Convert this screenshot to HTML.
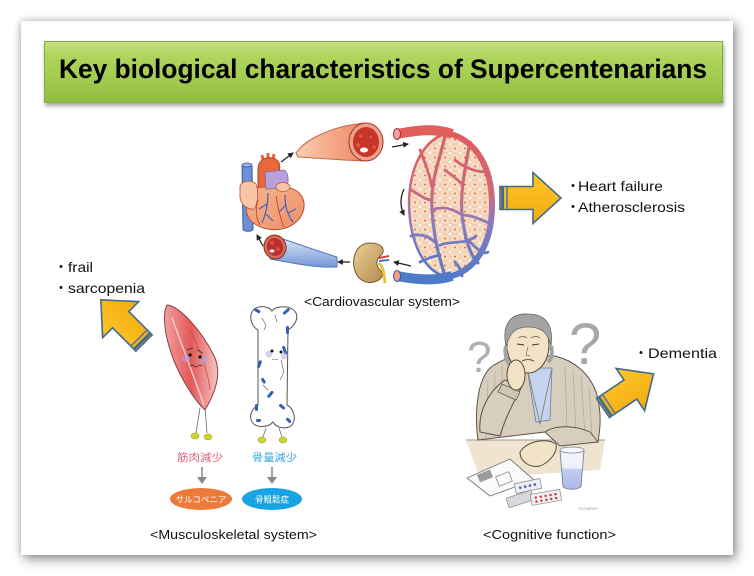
<!DOCTYPE html>
<html><head><meta charset="utf-8">
<style>
html,body{margin:0;padding:0;background:#fff;}
body{width:754px;height:576px;position:relative;overflow:hidden;font-family:"Liberation Sans","Noto Sans CJK JP",sans-serif;}
.slide{position:absolute;left:21px;top:21px;width:712px;height:534px;background:#fff;box-shadow:3px 4px 11px rgba(0,0,0,0.45),-1px -1px 6px rgba(0,0,0,0.15);}
.bar{position:absolute;left:44px;top:41px;width:677px;height:60px;background:linear-gradient(#c4e07f 0%,#afd45c 25%,#9ec94c 70%,#8fbb3f 100%);border:1px solid #86ad3c;box-shadow:1px 3px 4px rgba(0,0,0,0.35);}
svg{position:absolute;left:0;top:0;}
</style></head><body>
<div class="slide"></div>
<div class="bar"></div>
<svg width="754" height="576" viewBox="0 0 754 576" xmlns="http://www.w3.org/2000/svg">
<defs>
  <linearGradient id="gold" x1="0" y1="0" x2="0" y2="1">
    <stop offset="0" stop-color="#fdc62a"/><stop offset="1" stop-color="#f3aa0e"/>
  </linearGradient>
  <g id="ba">
    <polygon points="0,-11.5 33,-11.5 33,-25.5 61,0 33,25.5 33,11.5 0,11.5" fill="url(#gold)" stroke="#41698f" stroke-width="1.6" stroke-linejoin="miter"/>
    <rect x="1.2" y="-10.8" width="2.8" height="21.6" fill="#41698f"/>
    <rect x="6.2" y="-10.8" width="1.6" height="21.6" fill="#5a7a98"/>
  </g>
  <marker id="ah" viewBox="0 0 6 6" refX="5" refY="3" markerWidth="4.5" markerHeight="4.5" orient="auto">
    <path d="M0,0 L6,3 L0,6 z" fill="#222"/>
  </marker>
  <linearGradient id="rb" gradientUnits="userSpaceOnUse" x1="0" y1="128" x2="0" y2="284">
    <stop offset="0" stop-color="#e35a5a"/><stop offset="0.42" stop-color="#d0687a"/><stop offset="0.6" stop-color="#8a7cc0"/><stop offset="1" stop-color="#4c78c8"/>
  </linearGradient>
  <pattern id="cells" width="10" height="9" patternUnits="userSpaceOnUse">
    <rect x="0" y="0" width="10" height="9" fill="#fff4ea"/>
    <rect x="0.6" y="0.6" width="8.8" height="7.8" rx="2" fill="#f9dcc0" stroke="#dcae88" stroke-width="0.5"/>
    <circle cx="5" cy="4.5" r="0.9" fill="#e04a3a"/>
  </pattern>
  <linearGradient id="art" x1="0" y1="0" x2="1" y2="0">
    <stop offset="0" stop-color="#f9cdb0"/><stop offset="1" stop-color="#ee8a66"/>
  </linearGradient>
  <linearGradient id="vein" x1="0" y1="0" x2="0" y2="1">
    <stop offset="0" stop-color="#e2ecf8"/><stop offset="1" stop-color="#7397d6"/>
  </linearGradient>
  <linearGradient id="kid" x1="0" y1="0" x2="1" y2="1">
    <stop offset="0" stop-color="#ecd098"/><stop offset="1" stop-color="#b48a4c"/>
  </linearGradient>
  <linearGradient id="musc" x1="0" y1="0" x2="1" y2="0">
    <stop offset="0" stop-color="#f3a0a0"/><stop offset="0.5" stop-color="#e25858"/><stop offset="1" stop-color="#f6c4c4"/>
  </linearGradient>
  <linearGradient id="glass" x1="0" y1="0" x2="0" y2="1">
    <stop offset="0" stop-color="#f2f5fb"/><stop offset="0.45" stop-color="#eef2fa"/><stop offset="0.5" stop-color="#c4cdf0"/><stop offset="1" stop-color="#a8b6ea"/>
  </linearGradient>
  <linearGradient id="hb" x1="0" y1="0" x2="1" y2="1">
    <stop offset="0" stop-color="#f7b48c"/><stop offset="1" stop-color="#ee9068"/>
  </linearGradient>
</defs>

<!-- Title -->
<text x="59" y="78" font-family="Liberation Sans Narrow, Liberation Sans, sans-serif" font-weight="bold" font-size="27" textLength="648" lengthAdjust="spacingAndGlyphs" fill="#000">Key biological characteristics of Supercentenarians</text>

<!-- ===== Cardiovascular ===== -->
<!-- top artery -->
<path d="M296,153 C305,140 325,131 345,126 L363,123 L363,161 C340,160 315,158 298,157 Z" fill="url(#art)" stroke="#c86a4e" stroke-width="1"/>
<ellipse cx="366" cy="142" rx="17" ry="19" fill="#eda08a" stroke="#9a3a2a" stroke-width="1"/>
<ellipse cx="366" cy="142" rx="13" ry="15" fill="#c8362a"/>
<circle cx="361" cy="136" r="3" fill="#e04a3a" stroke="#8a1a10" stroke-width="0.5"/>
<circle cx="371" cy="137" r="2.5" fill="#e04a3a" stroke="#8a1a10" stroke-width="0.5"/>
<circle cx="374" cy="147" r="3" fill="#e04a3a" stroke="#8a1a10" stroke-width="0.5"/>
<ellipse cx="364" cy="150" rx="4" ry="2.5" fill="#fff"/>
<circle cx="358" cy="145" r="2" fill="#e85a48"/>

<!-- capillary bed -->
<path d="M447,133 C478,140 492,170 492,205 C492,245 475,272 447,277 C425,272 410,245 409,205 C409,168 423,140 447,133 Z" fill="url(#cells)"/>
<g fill="none" stroke="#5a5a8a" stroke-width="3.6" stroke-linecap="round" opacity="0.35">
  <path d="M445,136 C440,160 430,180 432,210 C434,240 440,260 445,276"/>
  <path d="M470,142 C465,170 460,190 462,215 C465,240 470,255 478,263"/>
</g>
<g fill="none" stroke="url(#rb)" stroke-width="2.8" stroke-linecap="round">
  <path d="M445,136 C440,160 430,180 432,210 C434,240 440,260 445,276"/>
  <path d="M470,142 C465,170 460,190 462,215 C465,240 470,255 478,263"/>
  <path d="M432,210 C445,205 455,210 462,215"/>
  <path d="M420,150 C425,162 430,175 432,188"/>
  <path d="M440,245 C455,240 465,245 476,236"/>
  <path d="M411,190 C420,195 425,200 432,200"/>
  <path d="M455,160 C465,168 475,172 488,172"/>
  <path d="M411,236 C420,233 428,236 435,242"/>
  <path d="M462,215 C472,215 482,220 491,224"/>
  <path d="M455,262 C460,268 462,272 462,276"/>
  <path d="M445,170 C452,175 458,180 463,185"/>
  <path d="M420,262 C428,258 435,256 440,255"/>
  <path d="M470,242 C478,250 484,255 488,252"/>
</g>
<path d="M447,133 C478,140 492,170 492,205 C492,245 475,272 447,277" fill="none" stroke="url(#rb)" stroke-width="6"/>
<path d="M447,133 C423,140 409,168 409,205 C410,245 425,272 447,277" fill="none" stroke="url(#rb)" stroke-width="2.5"/>
<path d="M397,134 C418,130 436,128 452,134" fill="none" stroke="#e2605a" stroke-width="10"/>
<ellipse cx="397" cy="134" rx="3.5" ry="5.5" fill="#f4a0a0" stroke="#a03030" stroke-width="1"/>
<path d="M397,276 C418,280 436,281 452,276" fill="none" stroke="#4e7ac8" stroke-width="10"/>
<ellipse cx="397" cy="276" rx="3.5" ry="5.5" fill="#f09a90" stroke="#3a5aa0" stroke-width="1"/>

<!-- kidney -->
<path d="M370,243 C358,243 352,255 354,267 C356,279 365,284 374,282 C382,280 385,274 380,270 C376,266 376,260 380,256 C386,252 384,243 370,243 Z" fill="url(#kid)" stroke="#7a5a30" stroke-width="1"/>
<path d="M379,258 L389,256" stroke="#d84040" stroke-width="2"/>
<path d="M379,261 L389,260" stroke="#4c70c0" stroke-width="2"/>
<path d="M379,263 C384,268 384,276 385,283" fill="none" stroke="#e2c440" stroke-width="3"/>

<!-- bottom vein -->
<path d="M274,236 C298,244 318,251 337,257 L337,267 C315,268 292,263 270,259 Z" fill="url(#vein)" stroke="#5a78b8" stroke-width="1"/>
<ellipse cx="275" cy="247" rx="11" ry="12" transform="rotate(-15 275 247)" fill="#d86a58" stroke="#803020" stroke-width="1"/>
<ellipse cx="275" cy="247" rx="8" ry="9" transform="rotate(-15 275 247)" fill="#b83030"/>
<circle cx="272" cy="243" r="2.2" fill="#e04a3a"/>
<circle cx="278" cy="249" r="2" fill="#e04a3a"/>
<ellipse cx="272" cy="251" rx="2.5" ry="1.6" fill="#fff"/>

<!-- heart -->
<path d="M242,166 C242,163 252,163 252,166 L253,229 C253,232 243,232 243,229 Z" fill="#6c90d8" stroke="#3a5aa0" stroke-width="1"/>
<ellipse cx="247" cy="165" rx="5" ry="2" fill="#9ab4e8" stroke="#3a5aa0" stroke-width="0.8"/>
<path d="M263,160 L262,155 M268,158 L268,153 M273,159 L274,154" stroke="#e8683c" stroke-width="3"/>
<path d="M258,190 L258,170 C258,160 265,157 272,158 C279,159 281,165 279,172 L277,190 Z" fill="#e8683c" stroke="#b04020" stroke-width="1"/>
<path d="M250,196 C248,188 262,186 275,187 C290,186 302,190 304,203 C305,215 296,226 282,229 C270,231 258,228 250,220 C244,212 246,202 250,196 Z" fill="url(#hb)" stroke="#c0503a" stroke-width="1.1"/>
<path d="M265,172 L284,170 C289,172 289,184 286,188 L266,189 Z" fill="#b9a0d8" stroke="#7a6aa0" stroke-width="0.8"/>
<ellipse cx="283" cy="187" rx="7" ry="4.5" fill="#f7c6a6" stroke="#c0503a" stroke-width="0.7"/>
<path d="M240,186 C242,180 252,180 256,184 C259,192 258,203 254,209 C248,210 241,205 240,198 Z" fill="#f7c6a6" stroke="#c0503a" stroke-width="0.8"/>
<g fill="none" stroke="#3a62c4" stroke-width="1.2">
  <path d="M268,193 C268,204 266,214 262,223"/>
  <path d="M267,204 L259,209 M266,214 L273,221"/>
  <path d="M285,195 C285,206 287,214 293,222"/>
  <path d="M286,205 L279,212 M288,213 L296,209"/>
</g>
<g fill="none" stroke="#d0402a" stroke-width="0.9">
  <path d="M258,200 C255,210 256,218 260,225"/>
  <path d="M276,196 C278,208 280,218 284,227"/>
</g>

<!-- small arrows -->
<g stroke="#222" stroke-width="1.3" fill="none" marker-end="url(#ah)">
  <path d="M281,162 L293,153"/>
  <path d="M392,147 L408,144"/>
  <path d="M404,189 Q398,202 404,215"/>
  <path d="M411,266 L394,262"/>
  <path d="M350,262 L338,262"/>
  <path d="M263,246 L257,235"/>
</g>

<text x="304" y="306" font-size="13" textLength="156" lengthAdjust="spacingAndGlyphs" fill="#111">&lt;Cardiovascular system&gt;</text>

<!-- right arrow + text -->
<use href="#ba" transform="translate(500,198)"/>
<text x="566" y="191" font-family="Noto Sans CJK JP, sans-serif" font-size="14" fill="#111">・</text>
<text x="578" y="191" font-size="14" textLength="85" lengthAdjust="spacingAndGlyphs" fill="#111">Heart failure</text>
<text x="566" y="212" font-family="Noto Sans CJK JP, sans-serif" font-size="14" fill="#111">・</text>
<text x="578" y="212" font-size="14" textLength="107" lengthAdjust="spacingAndGlyphs" fill="#111">Atherosclerosis</text>

<!-- ===== Musculoskeletal ===== -->
<text x="54" y="272" font-family="Noto Sans CJK JP, sans-serif" font-size="14" fill="#111">・</text>
<text x="68" y="272" font-size="14" textLength="25" lengthAdjust="spacingAndGlyphs" fill="#111">frail</text>
<text x="54" y="293" font-family="Noto Sans CJK JP, sans-serif" font-size="14" fill="#111">・</text>
<text x="68" y="293" font-size="14" textLength="77" lengthAdjust="spacingAndGlyphs" fill="#111">sarcopenia</text>
<use href="#ba" transform="translate(144,343) rotate(-135)"/>

<!-- muscle -->
<path d="M167,305 C178,305 202,330 215,358 C222,375 214,395 205,410 C194,400 176,372 169,346 C164,330 163,312 167,305 Z" fill="url(#musc)" stroke="#8a4040" stroke-width="1"/>
<path d="M172,318 C182,345 195,380 204,405" fill="none" stroke="#f6caca" stroke-width="1.5"/>
<path d="M190,330 C200,350 208,370 210,390" fill="none" stroke="#c84848" stroke-width="0.8"/>
<circle cx="186" cy="358" r="4" fill="#b8a0e0" opacity="0.6"/>
<circle cx="204" cy="360" r="4" fill="#b8a0e0" opacity="0.6"/>
<circle cx="190" cy="355" r="1.6" fill="#111"/>
<circle cx="200" cy="357" r="1.6" fill="#111"/>
<path d="M187,350 L193,348 M197,350 L203,353" stroke="#333" stroke-width="0.7"/>
<path d="M190,366 q2,-2 4,0 q2,2 4,0 q2,-2 4,0" fill="none" stroke="#333" stroke-width="0.8"/>
<path d="M200,408 L196,433 M205,408 L207,433" stroke="#777" stroke-width="0.9"/>
<ellipse cx="195" cy="436" rx="4" ry="3" fill="#cfd82a" stroke="#8a9020" stroke-width="0.5"/>
<ellipse cx="208" cy="437" rx="4" ry="3" fill="#cfd82a" stroke="#8a9020" stroke-width="0.5"/>

<!-- bone -->
<path d="M252,312 C255,305 268,305 272,311 C276,305 292,305 296,313 C299,320 293,327 288,330 L287,405 C293,408 297,418 292,425 C287,430 276,428 273,422 C268,428 256,428 252,422 C248,415 253,408 258,405 L258,330 C252,327 249,318 252,312 Z" fill="#fff" stroke="#555" stroke-width="1"/>
<g fill="#2f5fb8">
  <rect x="254" y="309" width="7" height="3" rx="1.5" transform="rotate(30 257 310)"/>
  <rect x="282" y="310" width="8" height="3" rx="1.5" transform="rotate(-40 286 311)"/>
  <rect x="286" y="326" width="3" height="8" rx="1.5"/>
  <rect x="258" y="360" width="3" height="8" rx="1.5" transform="rotate(20 259 364)"/>
  <rect x="283" y="346" width="3" height="9" rx="1.5" transform="rotate(-20 284 350)"/>
  <rect x="266" y="393" width="8" height="3" rx="1.5" transform="rotate(-50 270 394)"/>
  <rect x="279" y="405" width="7" height="3" rx="1.5" transform="rotate(40 282 406)"/>
  <rect x="255" y="404" width="3" height="7" rx="1.5"/>
  <rect x="286" y="419" width="6" height="3" rx="1.5" transform="rotate(45 289 420)"/>
  <rect x="256" y="419" width="5" height="3" rx="1.5"/>
  <rect x="262" y="378" width="3" height="6" rx="1.5" transform="rotate(-30 263 381)"/>
</g>
<circle cx="269" cy="354" r="3.5" fill="#c0b0e8" opacity="0.6"/>
<circle cx="284" cy="356" r="3.5" fill="#c0b0e8" opacity="0.6"/>
<circle cx="272" cy="351" r="1.5" fill="#111"/>
<circle cx="281" cy="352" r="1.5" fill="#111"/>
<g fill="none" stroke="#555" stroke-width="0.6">
  <path d="M262,318 L266,325 L264,330"/>
  <path d="M275,315 L277,322"/>
  <path d="M281,360 L284,372 L280,380"/>
  <path d="M263,385 L268,390"/>
  <path d="M272,360 q3,-2 6,0"/>
</g>
<path d="M266,428 L263,437 M279,428 L282,437" stroke="#777" stroke-width="0.9"/>
<ellipse cx="262" cy="440" rx="4" ry="3" fill="#cfd82a" stroke="#8a9020" stroke-width="0.5"/>
<ellipse cx="283" cy="440" rx="4" ry="3" fill="#cfd82a" stroke="#8a9020" stroke-width="0.5"/>

<text x="177" y="461" font-family="Noto Sans CJK JP, sans-serif" font-size="10.5" fill="#e0607a" textLength="46" lengthAdjust="spacingAndGlyphs">筋肉減少</text>
<text x="252" y="461" font-family="Noto Sans CJK JP, sans-serif" font-size="10.5" fill="#3aa8dc" textLength="45" lengthAdjust="spacingAndGlyphs">骨量減少</text>
<path d="M202,467 L202,478" stroke="#888" stroke-width="1.5"/>
<path d="M197,477 L207,477 L202,484 Z" fill="#888"/>
<path d="M272,467 L272,478" stroke="#888" stroke-width="1.5"/>
<path d="M267,477 L277,477 L272,484 Z" fill="#888"/>
<ellipse cx="201" cy="499" rx="31" ry="11" fill="#ee7a3a"/>
<ellipse cx="272" cy="499" rx="30" ry="11" fill="#1ba2e2"/>
<text x="201" y="502.5" text-anchor="middle" font-family="Noto Sans CJK JP, sans-serif" font-size="8.5" fill="#fff">サルコペニア</text>
<text x="272" y="502.5" text-anchor="middle" font-family="Noto Sans CJK JP, sans-serif" font-size="8.5" fill="#fff">骨粗鬆症</text>

<text x="150" y="539" font-size="13" textLength="167" lengthAdjust="spacingAndGlyphs" fill="#111">&lt;Musculoskeletal system&gt;</text>

<!-- ===== Cognitive ===== -->
<text x="467" y="372" font-size="44" fill="#b0b0b0" font-family="Liberation Sans, sans-serif">?</text>
<text x="569" y="364" font-size="58" fill="#a8a8a8" font-family="Liberation Sans, sans-serif">?</text>
<!-- table -->
<path d="M466,440 L605,440 L600,470 L480,478 Z" fill="#efe4d0"/>
<path d="M466,440 L605,440" stroke="#999" stroke-width="1"/>
<!-- body -->
<path d="M478,440 C474,410 478,380 490,368 C500,360 510,357 520,356 L555,356 C572,360 590,372 597,395 C602,415 600,430 598,442 L560,444 L545,432 Z" fill="#d7cebe" stroke="#5c5244" stroke-width="1"/>
<g stroke="#b7ad9a" stroke-width="0.8">
  <path d="M488,380 L486,438 M495,372 L494,438 M502,366 L502,436 M565,366 L567,430 M573,370 L576,432 M581,376 L585,435 M589,386 L592,438"/>
</g>
<path d="M527,368 L552,368 L550,420 L536,422 Z" fill="#c4d4ee" stroke="#6c7ca0" stroke-width="0.8"/>
<path d="M527,368 L540,424 L552,368" fill="none" stroke="#8a8070" stroke-width="0.9"/>
<!-- raised arm -->
<path d="M480,432 C478,410 490,390 505,380 L522,386 C515,400 505,418 500,436 Z" fill="#d7cebe" stroke="#5c5244" stroke-width="1"/>
<path d="M502,384 L520,392 L516,400 L498,392 Z" fill="#cfc5b3" stroke="#5c5244" stroke-width="0.7"/>
<!-- neck/head -->
<rect x="520" y="356" width="16" height="14" fill="#f3e3c6"/>
<ellipse cx="528" cy="345" rx="21" ry="28" fill="#f3e3c6" stroke="#5a4a3a" stroke-width="1"/>
<path d="M506,346 C501,322 513,313 528,314 C544,314 554,323 551,346 C548,333 542,327 528,327 C515,327 510,333 506,346 Z" fill="#a3a3a3" stroke="#666" stroke-width="0.8"/>
<path d="M506,346 C504,354 507,362 510,364 M551,346 C553,354 551,360 548,362" stroke="#a3a3a3" stroke-width="4" fill="none"/>
<path d="M517,344 L524,345 M532,345 L539,344" stroke="#333" stroke-width="1"/>
<path d="M518,338 q5,-3 9,0 M531,338 q5,-3 9,0" fill="none" stroke="#555" stroke-width="0.7"/>
<path d="M522,361 q6,-3 12,0" fill="none" stroke="#6a4a3a" stroke-width="1"/>
<path d="M528,347 L526,355 L530,356" fill="none" stroke="#8a6a5a" stroke-width="0.7"/>
<!-- hand on cheek -->
<ellipse cx="516" cy="375" rx="9" ry="15" fill="#f3e3c6" stroke="#5a4a3a" stroke-width="1"/>
<!-- sleeve on table -->
<path d="M545,432 C555,425 575,425 590,432 L598,442 L560,446 Z" fill="#d7cebe" stroke="#5c5244" stroke-width="0.9"/>
<!-- hand on table -->
<path d="M520,452 C528,440 548,438 556,444 C558,452 550,462 540,466 C530,468 520,462 520,452 Z" fill="#f3e3c6" stroke="#5a4a3a" stroke-width="1"/>
<!-- paper -->
<path d="M467,478 L510,459 L534,480 L490,496 Z" fill="#fafafa" stroke="#777" stroke-width="0.9"/>
<rect x="478" y="472" width="14" height="8" fill="#9a9a9a" transform="rotate(-22 485 476)"/>
<rect x="497" y="474" width="14" height="10" fill="none" stroke="#888" stroke-width="0.8" transform="rotate(-22 504 479)"/>
<!-- pills -->
<g transform="rotate(-12 528 486)">
  <rect x="515" y="481" width="26" height="10" fill="#eceef6" stroke="#888" stroke-width="0.7"/>
  <g fill="#4a5ab8"><circle cx="520" cy="486" r="1.3"/><circle cx="525" cy="486" r="1.3"/><circle cx="530" cy="486" r="1.3"/><circle cx="535" cy="486" r="1.3"/></g>
</g>
<g transform="rotate(-18 520 499)">
  <rect x="507" y="494" width="26" height="10" fill="#d8d8dc" stroke="#888" stroke-width="0.7"/>
</g>
<g transform="rotate(-10 545 498)">
  <rect x="531" y="492" width="30" height="11" fill="#f0f0f4" stroke="#888" stroke-width="0.7"/>
  <g fill="#d83040"><circle cx="536" cy="496" r="1.2"/><circle cx="541" cy="496" r="1.2"/><circle cx="546" cy="496" r="1.2"/><circle cx="551" cy="496" r="1.2"/><circle cx="556" cy="496" r="1.2"/><circle cx="536" cy="500" r="1.2"/><circle cx="541" cy="500" r="1.2"/><circle cx="546" cy="500" r="1.2"/><circle cx="551" cy="500" r="1.2"/><circle cx="556" cy="500" r="1.2"/></g>
</g>
<!-- glass -->
<path d="M560,450 L584,450 L581,487 C575,490 568,490 563,487 Z" fill="url(#glass)" stroke="#7a84a0" stroke-width="0.9"/>
<ellipse cx="572" cy="450" rx="12" ry="3" fill="#f6f8fc" stroke="#7a84a0" stroke-width="0.8"/>
<text x="578" y="510" font-size="4" fill="#999">©KOMPAS</text>

<use href="#ba" transform="translate(603,408) rotate(-34)"/>
<text x="634" y="358" font-family="Noto Sans CJK JP, sans-serif" font-size="14" fill="#111">・</text>
<text x="648" y="358" font-size="14" textLength="69" lengthAdjust="spacingAndGlyphs" fill="#111">Dementia</text>

<text x="483" y="539" font-size="13" textLength="133" lengthAdjust="spacingAndGlyphs" fill="#111">&lt;Cognitive function&gt;</text>
</svg>
</body></html>
